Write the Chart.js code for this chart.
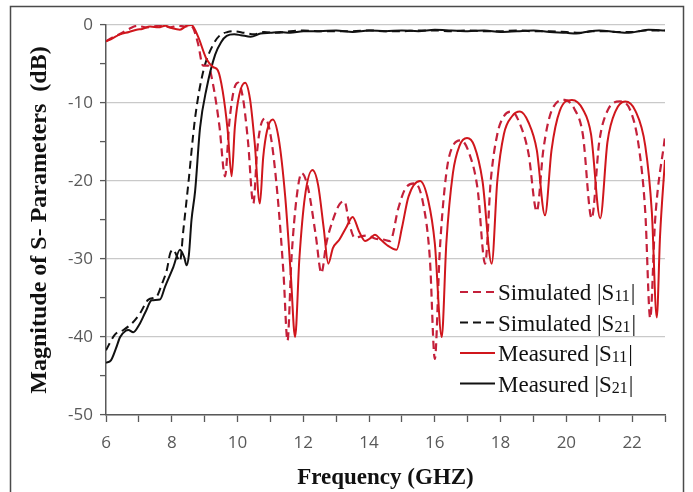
<!DOCTYPE html>
<html>
<head>
<meta charset="utf-8">
<script src="https://cdn.jsdelivr.net/npm/chart.js@4"></script>
<style>
  html, body { margin: 0; padding: 0; background: #ffffff; }
  #wrap { width: 693px; height: 492px; position: relative; }
</style>
</head>
<body>
<div id="wrap"><canvas id="c" width="693" height="492"></canvas></div>
<script>
// ---------------- data ----------------
const xTickLabels = ['6', '8', '10', '12', '14', '16', '18', '20', '22'];
const yTickLabels = ['0', '-10', '-20', '-30', '-40', '-50'];

const measS11Freq = [6.0, 6.2, 6.43, 6.7, 6.93, 7.1, 7.34, 7.6, 7.8, 8.0, 8.25, 8.45, 8.6, 8.8, 9.06, 9.26, 9.4, 9.55, 9.7, 9.82,
  9.92, 10.05, 10.23, 10.38, 10.52, 10.68, 10.78, 10.9, 11.07, 11.25, 11.45, 11.62, 11.75, 11.88, 12.05, 12.28, 12.45, 12.62, 12.76,
  12.9, 13.1, 13.3, 13.5, 13.7, 13.88, 14.05, 14.18, 14.35, 14.54, 14.84, 15.0, 15.2, 15.55, 15.8, 16.0, 16.21, 16.35, 16.55, 16.75,
  16.98, 17.2, 17.45, 17.73, 17.9, 18.1, 18.35, 18.59, 18.85, 19.1, 19.35, 19.55, 19.8, 20.17, 20.5, 20.75, 21.03, 21.25, 21.5,
  21.79, 22.1, 22.4, 22.6, 22.75, 22.85, 23.0];
const measS11 = [-2.1, -1.7, -1.2, -0.9, -0.6, -0.5, -0.2, -0.3, -0.1, -0.4, -0.6, -0.1, 0, -1.5, -4.4, -5.4, -5.8, -8.5, -13.5, -19.4,
  -13, -9, -7.4, -9.5, -15, -22.9, -17, -13.5, -12.1, -14.5, -22, -32, -40, -30, -22, -18.6, -20.5, -26, -30.6,
  -28.6, -27.5, -26, -24.6, -26.5, -27.7, -27.3, -26.9, -27.5, -28.2, -28.8, -26, -22, -20.0, -22.5, -28, -40, -28, -19, -15.5,
  -14.5, -15.5, -20, -30.6, -20, -14, -11.7, -11.1, -12.5, -16, -24.4, -16, -11, -9.6, -10.8, -14, -24.8, -15, -11,
  -9.8, -11, -15.5, -24, -37.5, -27, -17.3];

const simS11Freq = [6.0, 6.2, 6.45, 6.7, 6.95, 7.2, 7.45, 7.7, 7.95, 8.2, 8.4, 8.55, 8.65, 8.8, 8.95, 9.1, 9.25, 9.45, 9.62,
  9.75, 9.88, 10.02, 10.17, 10.32, 10.48, 10.6, 10.7, 10.84, 11.02, 11.22, 11.4, 11.52, 11.64, 11.8, 11.95, 12.15, 12.38, 12.55,
  12.7, 12.9, 13.1, 13.25, 13.4, 13.57, 13.75, 13.95, 14.2, 14.43, 14.64, 14.89, 15.1, 15.4, 15.65, 15.85, 16.0, 16.15, 16.35,
  16.55, 16.8, 17.05, 17.3, 17.53, 17.7, 17.9, 18.1, 18.34, 18.6, 18.85, 19.1, 19.3, 19.55, 19.95, 20.25, 20.5, 20.77, 21.0,
  21.25, 21.63, 21.95, 22.2, 22.4, 22.55, 22.7, 23.0];
const simS11 = [-2.1, -1.6, -1.1, -0.5, -0.1, -0.3, -0.2, 0, -0.3, -0.1, -0.2, -0.1, -0.4, -2.4, -5.2, -5.2, -7.5, -13, -19.4,
  -12.5, -8.5, -7.4, -9.5, -15, -22.9, -16, -13, -12.0, -14.5, -22, -32, -40.5, -30, -22, -19, -21, -27, -31.8,
  -28, -25, -23, -22.6, -25.5, -27.3, -27.1, -27.0, -27.4, -27.5, -27.7, -23.5, -21, -20.3, -23, -30, -42.8, -29, -19,
  -15.5, -14.8, -16.5, -21, -30.6, -20, -14, -11.7, -11.1, -12.8, -16.5, -23.9, -16, -11, -9.6, -10.8, -14, -24.8, -15,
  -11, -9.8, -11, -15.5, -24, -37.6, -25, -14.3];

const measS21Freq = [6.0, 6.15, 6.3, 6.43, 6.6, 6.68, 6.83, 7.0, 7.2, 7.39, 7.64, 7.8, 8.05, 8.25, 8.38, 8.45, 8.52, 8.6, 8.71,
  8.86, 9.06, 9.32, 9.5, 9.67, 9.9, 10.1, 10.4, 10.7, 11.0, 11.3, 11.6, 12.0, 12.5, 13.0, 13.5, 14.0, 14.5, 15.0, 15.5, 16.0,
  16.5, 17.0, 17.5, 18.0, 18.5, 19.0, 19.5, 20.0, 20.3, 20.7, 21.0, 21.5, 21.9, 22.2, 22.5, 23.0];
const measS21 = [-43.3, -43.0, -41.5, -40, -39.2, -39.1, -39.4, -38.5, -36.8, -35.3, -35.2, -33.5, -31, -28.8, -29.8, -30.8, -29.5, -25, -21.3,
  -13.2, -8.1, -3.8, -2.2, -1.4, -1.2, -1.3, -1.5, -1.1, -1.0, -0.9, -1.0, -0.8, -0.8, -0.7, -0.9, -0.7, -0.8, -0.7, -0.8, -0.6,
  -0.7, -0.8, -0.7, -0.9, -0.8, -0.7, -0.9, -1.0, -1.1, -0.8, -0.7, -0.9, -1.0, -0.8, -0.6, -0.7];

const simS21Freq = [6.0, 6.27, 6.53, 6.8, 7.03, 7.29, 7.54, 7.7, 7.85, 7.95, 8.05, 8.15, 8.25, 8.35, 8.5, 8.71, 8.96, 9.26, 9.47,
  9.7, 9.9, 10.2, 10.5, 10.8, 11.2, 11.6, 12.0, 12.5, 13.0, 13.5, 14.0, 14.5, 15.0, 15.5, 16.0, 16.5, 17.0, 17.5, 18.0, 18.5,
  19.0, 19.5, 20.0, 20.4, 20.8, 21.2, 21.6, 22.0, 22.4, 23.0];
const simS21 = [-41.7, -39.7, -39.1, -38.2, -37.0, -35.2, -34.8, -33.2, -31.4, -29.3, -28.8, -29.6, -30.3, -26.4, -20.5, -11.9, -5.9, -2.5, -1.3,
  -0.9, -0.8, -1.0, -1.2, -0.9, -1.0, -0.8, -0.7, -0.8, -0.8, -0.8, -0.7, -0.8, -0.8, -0.7, -0.7,
  -0.8, -0.7, -0.8, -0.8, -0.7, -0.8, -0.8, -0.9, -1.0, -0.8, -0.8, -0.9, -0.9, -0.7, -0.7];

const legendLabels = ['Simulated', 'Simulated', 'Measured', 'Measured'];
const legendSubs = ['11', '21', '11', '21'];

// ---------------- styling ----------------
const RED_SOLID = '#d0161c';
const RED_DASH = '#c4203a';
const BLACK = '#111111';
const DASH = [8, 5];

function pts(xs, ys) { return xs.map((x, i) => ({ x: x, y: ys[i] })); }

const frame = {
  id: 'frame',
  beforeDraw(chart) {
    const ctx = chart.ctx;
    ctx.save();
    ctx.fillStyle = '#ffffff';
    ctx.fillRect(0, 0, chart.width, chart.height);
    ctx.strokeStyle = '#4a4a4a';
    ctx.lineWidth = 1.5;
    ctx.strokeRect(10.5, 6.5, 673, 500);
    ctx.restore();
  }
};

const legendStyles = [
  { color: RED_DASH, dash: DASH, width: 2.2 },
  { color: BLACK, dash: DASH, width: 2 },
  { color: RED_SOLID, dash: [], width: 2 },
  { color: BLACK, dash: [], width: 2 }
];

const inLegend = {
  id: 'inLegend',
  afterDatasetsDraw(chart) {
    const ctx = chart.ctx;
    const a = chart.chartArea;
    const x0 = a.right - 205, lineLen = 35, gap = 3;
    const y0 = a.top + 267, dy = 30.5;
    ctx.save();
    legendLabels.forEach((lab, i) => {
      const y = y0 + i * dy;
      const st = legendStyles[i];
      ctx.beginPath();
      ctx.setLineDash(st.dash);
      ctx.strokeStyle = st.color;
      ctx.lineWidth = st.width;
      ctx.moveTo(x0, y);
      ctx.lineTo(x0 + lineLen, y);
      ctx.stroke();
      ctx.setLineDash([]);
      ctx.fillStyle = '#111111';
      ctx.textBaseline = 'alphabetic';
      const base = y + 8;
      let x = x0 + lineLen + gap;
      ctx.font = '23px "Liberation Serif", "Times New Roman", serif';
      const t1 = lab + ' |S';
      ctx.fillText(t1, x, base);
      x += ctx.measureText(t1).width;
      ctx.font = '16px "Liberation Serif", "Times New Roman", serif';
      ctx.fillText(legendSubs[i], x, base + 1);
      x += ctx.measureText(legendSubs[i]).width + 1;
      ctx.font = '23px "Liberation Serif", "Times New Roman", serif';
      ctx.fillText('|', x, base);
    });
    ctx.restore();
  }
};

const tickFont = { family: '"Open Sans", sans-serif', size: 17 };

new Chart(document.getElementById('c'), {
  type: 'line',
  data: {
    datasets: [
      { label: 'Measured |S11|', data: pts(measS11Freq, measS11), borderColor: RED_SOLID, borderWidth: 2 },
      { label: 'Measured |S21|', data: pts(measS21Freq, measS21), borderColor: BLACK, borderWidth: 2 },
      { label: 'Simulated |S11|', data: pts(simS11Freq, simS11), borderColor: RED_DASH, borderWidth: 2.2, borderDash: DASH },
      { label: 'Simulated |S21|', data: pts(simS21Freq, simS21), borderColor: BLACK, borderWidth: 2, borderDash: DASH }
    ]
  },
  options: {
    responsive: false,
    animation: false,
    devicePixelRatio: 1,
    elements: {
      point: { radius: 0 },
      line: { cubicInterpolationMode: 'monotone', fill: false }
    },
    layout: { padding: { left: 0, right: 28, top: 25, bottom: 0 } },
    plugins: { legend: { display: false }, tooltip: { enabled: false } },
    scales: {
      x: {
        type: 'linear', min: 6, max: 23,
        afterFit(s) { s.height = 77; },
        ticks: {
          stepSize: 1, autoSkip: false, maxRotation: 0, padding: 11,
          color: '#595959', font: tickFont,
          callback: (v) => { const s = String(v); return xTickLabels.includes(s) ? s : ''; }
        },
        grid: { display: true, drawOnChartArea: false, drawTicks: true, tickLength: 7, tickColor: '#595959', tickWidth: 1.3 },
        border: { display: true, color: '#595959', width: 1.5 },
        title: {
          display: true, text: 'Frequency (GHZ)', color: '#111111',
          font: { family: '"Liberation Serif", "Times New Roman", serif', size: 23, weight: 'bold' },
          padding: { top: 0, bottom: 0 }
        }
      },
      y: {
        type: 'linear', min: -50, max: 0,
        afterFit(s) { s.width = 106; },
        ticks: {
          stepSize: 5, autoSkip: false, padding: 7,
          color: '#595959', font: tickFont,
          callback: (v) => { const s = String(v); return yTickLabels.includes(s) ? s : ''; }
        },
        grid: {
          display: true, drawTicks: true, tickLength: 6, tickColor: '#595959', tickWidth: 1.3,
          color: (c) => (c.tick && c.tick.value % 10 === 0) ? '#c9c9c9' : 'rgba(0,0,0,0)',
          lineWidth: 1.2
        },
        border: { display: true, color: '#595959', width: 1.5 },
        title: {
          display: true, text: 'Magnitude of S- Parameters  (dB)', color: '#111111',
          font: { family: '"Liberation Serif", "Times New Roman", serif', size: 24, weight: 'bold' },
          padding: { top: 25, bottom: 0 }
        }
      }
    }
  },
  plugins: [frame, inLegend]
});
</script>
</body>
</html>
